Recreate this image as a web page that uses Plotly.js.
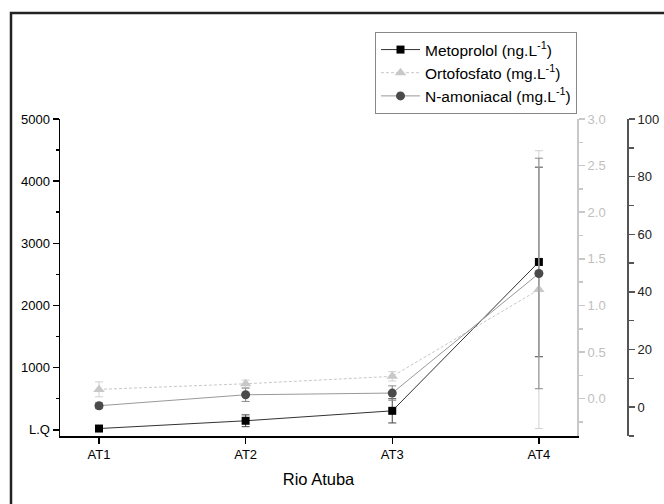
<!DOCTYPE html>
<html>
<head>
<meta charset="utf-8">
<script src="https://cdn.plot.ly/plotly-3.0.1.min.js"></script>
<style>
  html, body { margin: 0; padding: 0; background: #fff; }
  #chart { width: 664px; height: 504px; }
</style>
</head>
<body>
<div id="chart"></div>
<script>
// ---- data ----
const categories = ['AT1', 'AT2', 'AT3', 'AT4'];

const metoprolol = [20, 145, 305, 2700];        // ng/L (left axis)
const metoprololErr = [0, 95, 195, 1525];

const ortofosfato = [0.10, 0.16, 0.24, 1.17];   // mg/L (inner right axis)
const ortofosfatoErr = [0.08, 0.04, 0.05, 1.49];

const namoniacal = [0.5, 4.3, 4.9, 46.4];       // mg/L (outer right axis)
const namoniacalErr = [1.0, 2.3, 2.5, 40];

const leftTickVals = [0, 1000, 2000, 3000, 4000, 5000];
const leftTickText = ['L.Q', '1000', '2000', '3000', '4000', '5000'];

// ---- layout geometry ----
const W = 664, H = 504;
const mL = 60, mR = 36, mT = 119, mB = 68;
const plotW = W - mL - mR;   // 568
const plotH = H - mT - mB;   // 317
const xEnd = (577 - mL) / plotW;

function px2paperX(px) { return (px - mL) / plotW; }
function px2paperY(py) { return (H - mB - py) / plotH; }

const traces = [
  {
    x: categories, y: metoprolol, name: 'Metoprolol (ng.L<sup>-1</sup>)',
    type: 'scatter', mode: 'lines+markers', yaxis: 'y',
    line: { color: '#333333', width: 1 },
    marker: { symbol: 'square', size: 8, color: '#000000' },
    error_y: { type: 'data', array: metoprololErr, visible: true, color: '#444444', thickness: 1, width: 4 }
  },
  {
    x: categories, y: ortofosfato, name: 'Ortofosfato (mg.L<sup>-1</sup>)',
    type: 'scatter', mode: 'lines+markers', yaxis: 'y2',
    line: { color: '#c8c8c8', width: 1, dash: '3px,2px' },
    marker: { symbol: 'triangle-up', size: 10, color: '#c8c8c8' },
    error_y: { type: 'data', array: ortofosfatoErr, visible: true, color: '#d0d0d0', thickness: 1, width: 4 }
  },
  {
    x: categories, y: namoniacal, name: 'N-amoniacal (mg.L<sup>-1</sup>)',
    type: 'scatter', mode: 'lines+markers', yaxis: 'y3',
    line: { color: '#999999', width: 1 },
    marker: { symbol: 'circle', size: 9, color: '#4a4a4a' },
    error_y: { type: 'data', array: namoniacalErr, visible: true, color: '#8a8a8a', thickness: 1, width: 4 }
  }
];

const baseFont = { family: 'Liberation Sans, Arial, sans-serif', size: 13, color: '#000' };

const layout = {
  width: W, height: H,
  margin: { l: mL, r: mR, t: mT, b: mB, pad: 0 },
  paper_bgcolor: '#fff', plot_bgcolor: '#fff',
  font: baseFont,
  showlegend: true,
  legend: {
    x: px2paperX(375), y: px2paperY(32), xanchor: 'left', yanchor: 'top',
    bordercolor: '#888', borderwidth: 1, bgcolor: '#fff',
    font: { family: 'Liberation Sans, Arial, sans-serif', size: 15.5, color: '#000' },
    itemwidth: 39,
    tracegroupgap: 0
  },
  xaxis: {
    type: 'category', domain: [0, xEnd], range: [-0.266, 3.26],
    showgrid: false, zeroline: false,
    showline: true, linecolor: '#000', linewidth: 1.5,
    ticks: 'outside', ticklen: 6, tickcolor: '#000', tickwidth: 1.5,
    tickfont: { size: 13, color: '#000' },
    title: { text: 'Rio Atuba', font: { size: 16.5, color: '#000' }, standoff: 12 }
  },
  yaxis: {
    range: [-100, 5000], showgrid: false, zeroline: false,
    showline: true, linecolor: '#000', linewidth: 1.5,
    tickvals: leftTickVals, ticktext: leftTickText,
    ticks: 'outside', ticklen: 6, tickcolor: '#000', tickwidth: 1.5,
    minor: { dtick: 500, tick0: 0, ticks: 'outside', ticklen: 3, tickcolor: '#000', tickwidth: 1.5, showgrid: false },
    tickfont: { size: 13, color: '#000' }
  },
  yaxis2: {
    overlaying: 'y', side: 'right', anchor: 'x',
    range: [-0.4, 3.0], showgrid: false, zeroline: false,
    showline: true, linecolor: '#c8c8c8', linewidth: 2,
    dtick: 0.5, tick0: 0, tickformat: '.1f',
    ticks: 'outside', ticklen: 6, tickcolor: '#c8c8c8', tickwidth: 1.5,
    minor: { dtick: 0.25, tick0: 0, ticks: 'outside', ticklen: 4, tickcolor: '#c8c8c8', tickwidth: 1.5, showgrid: false },
    tickfont: { size: 13, color: '#c0c0c0' }
  },
  yaxis3: {
    overlaying: 'y', side: 'right', anchor: 'free', position: 1,
    range: [-10, 100], showgrid: false, zeroline: false,
    showline: true, linecolor: '#555', linewidth: 2,
    dtick: 20, tick0: 0,
    ticks: 'outside', ticklen: 6, tickcolor: '#555', tickwidth: 1.5,
    minor: { dtick: 10, tick0: 0, ticks: 'outside', ticklen: 5, tickcolor: '#555', tickwidth: 1.5, showgrid: false },
    tickfont: { size: 13, color: '#222' }
  },
  shapes: [
    {
      type: 'rect', xref: 'paper', yref: 'paper', layer: 'above',
      x0: px2paperX(11), x1: px2paperX(720),
      y0: px2paperY(560), y1: px2paperY(13),
      line: { color: '#222', width: 2.5 }, fillcolor: 'rgba(0,0,0,0)'
    }
  ]
};

Plotly.newPlot('chart', traces, layout, { staticPlot: true, displayModeBar: false });
</script>
</body>
</html>
